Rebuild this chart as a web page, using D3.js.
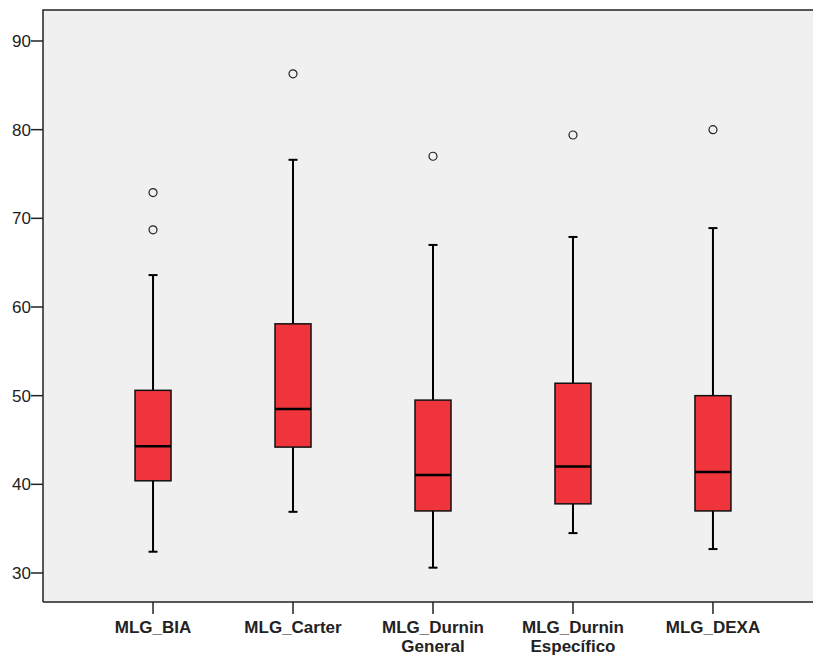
<!DOCTYPE html>
<html>
<head>
<meta charset="utf-8">
<script src="https://cdn.jsdelivr.net/npm/d3@7"></script>
<style>
  html, body { margin: 0; padding: 0; background: #fff; }
  svg { display: block; font-family: "Liberation Sans", Arial, sans-serif; }
</style>
</head>
<body>
<div id="chart"></div>
<script>
// categories (label lines) and box statistics
var categories = ["MLG_BIA", "MLG_Carter", "MLG_Durnin General", "MLG_Durnin Específico", "MLG_DEXA"];
var labelLines = [["MLG_BIA"], ["MLG_Carter"], ["MLG_Durnin", "General"], ["MLG_Durnin", "Específico"], ["MLG_DEXA"]];
var whiskerLow  = [32.4, 36.9, 30.6, 34.5, 32.7];
var q1          = [40.4, 44.2, 37.0, 37.8, 37.0];
var medians     = [44.3, 48.5, 41.05, 42.0, 41.4];
var q3          = [50.6, 58.1, 49.5, 51.4, 50.0];
var whiskerHigh = [63.6, 76.6, 67.0, 67.9, 68.9];
var outliers    = [[72.9, 68.7], [86.3], [77.0], [79.4], [80.0]];
var yTicks = [30, 40, 50, 60, 70, 80, 90];

var W = 813, H = 655;
var plot = {left: 43, top: 10, right: 823, bottom: 602};

var svg = d3.select("#chart").append("svg")
    .attr("width", W)
    .attr("height", H);

var x = d3.scalePoint()
    .domain(categories)
    .range([plot.left, plot.right])
    .padding(0.786);

var y = d3.scaleLinear()
    .domain([30, 90])
    .range([573, 41]);

// plot background
svg.append("rect")
    .attr("x", plot.left)
    .attr("y", plot.top)
    .attr("width", plot.right - plot.left)
    .attr("height", plot.bottom - plot.top)
    .attr("fill", "#f0f0f0");

var boxW = 36, capW = 9;

var g = svg.selectAll(".box")
    .data(categories)
    .join("g")
    .attr("class", "box")
    .attr("transform", function (d) { return "translate(" + x(d) + ",0)"; });

// whiskers
g.append("line")
    .attr("x1", 0).attr("x2", 0)
    .attr("y1", function (d, i) { return y(whiskerHigh[i]); })
    .attr("y2", function (d, i) { return y(whiskerLow[i]); })
    .attr("stroke", "#000")
    .attr("stroke-width", 2);

g.append("line")
    .attr("x1", -capW / 2).attr("x2", capW / 2)
    .attr("y1", function (d, i) { return y(whiskerHigh[i]); })
    .attr("y2", function (d, i) { return y(whiskerHigh[i]); })
    .attr("stroke", "#000")
    .attr("stroke-width", 2);

g.append("line")
    .attr("x1", -capW / 2).attr("x2", capW / 2)
    .attr("y1", function (d, i) { return y(whiskerLow[i]); })
    .attr("y2", function (d, i) { return y(whiskerLow[i]); })
    .attr("stroke", "#000")
    .attr("stroke-width", 2);

// boxes
g.append("rect")
    .attr("x", -boxW / 2)
    .attr("width", boxW)
    .attr("y", function (d, i) { return y(q3[i]); })
    .attr("height", function (d, i) { return y(q1[i]) - y(q3[i]); })
    .attr("fill", "#ef353b")
    .attr("stroke", "#111")
    .attr("stroke-width", 1.5);

// medians
g.append("line")
    .attr("x1", -boxW / 2).attr("x2", boxW / 2)
    .attr("y1", function (d, i) { return y(medians[i]); })
    .attr("y2", function (d, i) { return y(medians[i]); })
    .attr("stroke", "#000")
    .attr("stroke-width", 2.5);

// outliers
g.selectAll("circle")
    .data(function (d, i) { return outliers[i]; })
    .join("circle")
    .attr("cx", 0)
    .attr("cy", function (v) { return y(v); })
    .attr("r", 4)
    .attr("fill", "none")
    .attr("stroke", "#222")
    .attr("stroke-width", 1.2);

// frame: left, top, bottom
svg.append("path")
    .attr("d", "M" + plot.left + "," + plot.bottom + "V" + plot.top + "H" + W)
    .attr("fill", "none")
    .attr("stroke", "#222")
    .attr("stroke-width", 1.5);
svg.append("line")
    .attr("x1", plot.left).attr("x2", W)
    .attr("y1", plot.bottom).attr("y2", plot.bottom)
    .attr("stroke", "#222")
    .attr("stroke-width", 1.5);

// y axis ticks
var yt = svg.selectAll(".ytick")
    .data(yTicks)
    .join("g")
    .attr("class", "ytick")
    .attr("transform", function (d) { return "translate(0," + y(d) + ")"; });
yt.append("line")
    .attr("x1", plot.left - 12).attr("x2", plot.left)
    .attr("stroke", "#222")
    .attr("stroke-width", 1.5);
yt.append("text")
    .attr("x", plot.left - 12)
    .attr("dy", "0.35em")
    .attr("text-anchor", "end")
    .attr("font-size", "17px")
    .attr("fill", "#222")
    .text(function (d) { return d; });

// x axis ticks and labels
var xt = svg.selectAll(".xtick")
    .data(categories)
    .join("g")
    .attr("class", "xtick")
    .attr("transform", function (d) { return "translate(" + x(d) + "," + plot.bottom + ")"; });
xt.append("line")
    .attr("y1", 0).attr("y2", 12)
    .attr("stroke", "#222")
    .attr("stroke-width", 1.5);
xt.append("text")
    .attr("text-anchor", "middle")
    .attr("font-size", "17px")
    .attr("font-weight", "bold")
    .attr("fill", "#222")
    .selectAll("tspan")
    .data(function (d, i) { return labelLines[i]; })
    .join("tspan")
    .attr("x", 0)
    .attr("y", function (d, j) { return 31 + j * 19; })
    .text(function (d) { return d; });
</script>
</body>
</html>
